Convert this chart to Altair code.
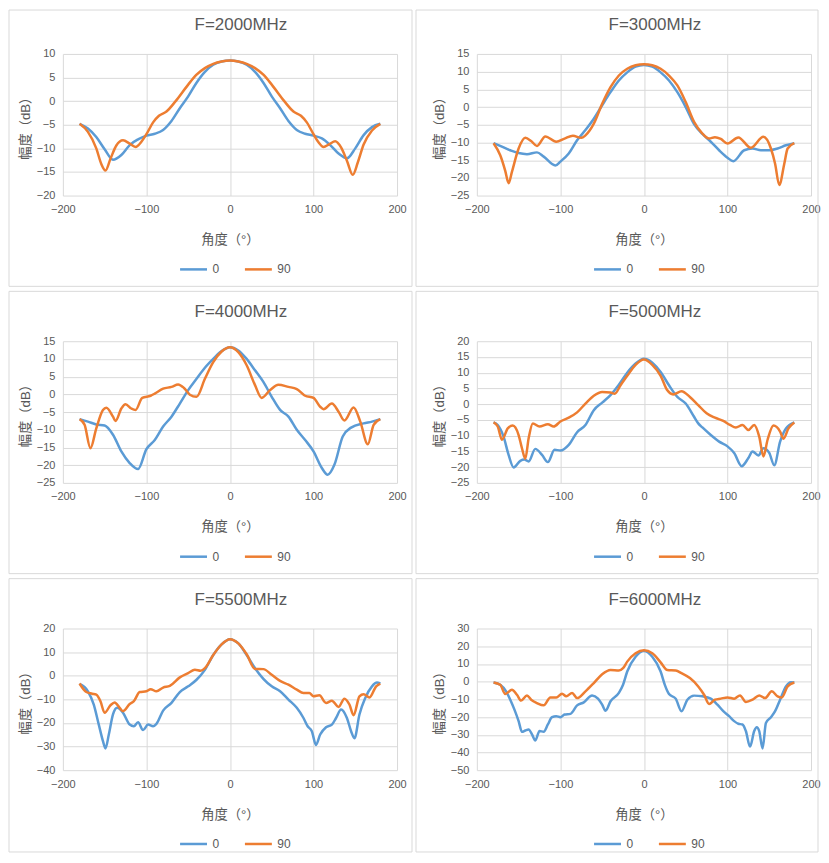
import pandas as pd
import altair as alt

FONT = "Liberation Sans, Noto Sans CJK SC"
GREY = "#595959"
GRID = "#d9d9d9"
BLUE = "#5b9bd5"
ORANGE = "#ed7d31"

x_ticks = [-200, -100, 0, 100, 200]

# F=2000MHz
ang_2000_0 = [-180, -170, -160, -150, -140, -130, -120, -110, -100, -90, -80, -70, -60, -50, -40, -30, -20, -10, 0,
              10, 20, 30, 40, 50, 60, 70, 80, 90, 100, 110, 120, 130, 140, 150, 160, 170, 180]
val_2000_0 = [-4.8, -5.8, -7.6, -10.2, -12.4, -11.4, -9.3, -8.1, -7.3, -6.9, -6.1, -4.2, -1.5, 1.0, 3.9, 6.2, 7.7, 8.4, 8.6,
              8.4, 7.7, 6.2, 3.9, 1.0, -1.5, -4.2, -6.1, -6.9, -7.3, -7.9, -9.3, -11.1, -12.1, -10.0, -7.2, -5.5, -4.8]
ang_2000_90 = [-180, -170, -160, -154, -149, -143, -136, -128, -120, -113, -106, -100, -92, -85, -76, -65, -50, -40, -30,
               -20, -10, 0, 10, 20, 30, 40, 50, 65, 76, 85, 92, 100, 106, 112, 119, 126, 133, 140, 147, 153, 160, 170, 180]
val_2000_90 = [-4.8, -6.5, -10.0, -13.3, -14.7, -12.2, -9.4, -8.3, -9.0, -9.7, -8.6, -7.0, -4.5, -3.1, -2.2, 0.0, 3.5, 5.6,
               7.0, 7.9, 8.4, 8.6, 8.4, 7.9, 7.0, 5.6, 3.5, 0.0, -2.2, -3.1, -4.5, -7.0, -8.7, -9.7, -9.1, -8.5, -9.8,
               -12.6, -15.6, -13.0, -9.2, -6.2, -4.8]

# F=3000MHz
ang_3000_0 = [-180, -170, -160, -150, -140, -128, -120, -106, -100, -90, -80, -70, -60, -50, -40, -30, -20, -10, 0,
              10, 20, 30, 40, 50, 60, 70, 80, 90, 100, 107, 120, 130, 140, 150, 160, 170, 180]
val_3000_0 = [-10.2, -11.2, -12.2, -13.0, -13.3, -12.8, -14.0, -16.5, -15.4, -13.1, -9.4, -6.5, -3.3, 0.5, 4.2, 7.5, 9.8,
              11.4, 11.9, 11.4, 9.8, 7.5, 4.2, 0.0, -4.8, -7.6, -9.8, -12.2, -14.3, -15.3, -12.2, -11.7, -12.2, -12.2,
              -11.7, -10.8, -10.2]
ang_3000_90 = [-180, -172, -166, -162, -158, -150, -142, -135, -128, -118, -105, -95, -85, -75, -70, -60, -50, -40, -30,
               -20, -10, 0, 10, 20, 30, 40, 50, 60, 70, 78, 85, 92, 100, 113, 128, 143, 152, 157, 162, 168, 172, 180]
val_3000_90 = [-10.2, -13.6, -18.0, -21.5, -18.3, -11.7, -8.7, -9.6, -11.0, -8.3, -9.8, -8.9, -8.1, -8.7, -8.0, -4.7, 0.9,
               5.6, 8.9, 10.8, 11.8, 12.1, 11.8, 10.8, 8.9, 6.1, 1.4, -4.2, -7.5, -8.9, -8.5, -9.0, -10.3, -8.6, -11.5,
               -8.4, -11.7, -16.0, -22.0, -16.0, -11.7, -10.2]

# F=4000MHz
ang_4000_0 = [-180, -170, -160, -150, -140, -130, -120, -110, -100, -90, -80, -70, -60, -50, -40, -30, -20, -10, 0,
              10, 20, 30, 40, 50, 60, 70, 80, 90, 100, 110, 117, 125, 135, 145, 160, 170, 180]
val_4000_0 = [-7.0, -7.7, -8.5, -8.8, -11.4, -16.1, -19.4, -21.1, -15.5, -12.9, -9.1, -6.3, -2.6, 1.2, 4.4, 7.5, 10.0,
              12.2, 13.3, 12.4, 10.0, 6.8, 3.5, -0.7, -4.4, -6.3, -10.0, -12.9, -16.1, -20.8, -22.7, -19.9, -11.9, -9.4,
              -8.2, -7.7, -7.0]
ang_4000_90 = [-180, -174, -167, -160, -152, -148, -140, -137, -130, -125, -118, -113, -105, -95, -90, -80, -70, -62, -55,
               -48, -40, -30, -20, -10, 0, 10, 20, 30, 38, 48, 58, 70, 80, 90, 100, 108, 112, 122, 130, 137, 148, 156,
               165, 172, 180]
val_4000_90 = [-7.0, -8.6, -15.2, -9.6, -4.4, -3.8, -6.3, -7.5, -4.0, -2.8, -4.0, -4.4, -1.0, -0.4, 0.2, 1.6, 2.1, 2.8,
               1.8, -0.1, -0.7, 4.4, 9.1, 12.1, 13.3, 11.9, 8.2, 2.6, -1.0, 1.2, 2.7, 2.1, 1.5, -0.4, -1.0, -3.5, -4.2,
               -2.6, -4.9, -7.4, -3.7, -7.7, -14.1, -8.6, -7.0]

# F=5000MHz
ang_5000_0 = [-180, -175, -168, -162, -156, -148, -143, -138, -130, -122, -115, -107, -100, -90, -80, -70, -60, -50, -40,
              -30, -20, -10, 0, 10, 20, 30, 40, 50, 60, 65, 70, 80, 90, 100, 108, 117, 125, 130, 137, 143, 150, 156,
              163, 170, 180]
val_5000_0 = [-5.8, -6.6, -10.3, -16.1, -20.1, -18.0, -17.6, -18.2, -14.2, -16.1, -18.4, -14.5, -14.7, -12.9, -8.9, -6.6,
              -1.9, 0.5, 2.9, 6.2, 10.0, 12.9, 14.4, 13.2, 10.2, 6.0, 2.3, 0.2, -4.0, -6.1, -7.4, -9.8, -11.9, -13.4,
              -15.5, -19.7, -17.1, -15.0, -16.3, -14.0, -15.5, -19.4, -11.9, -7.7, -5.8]
ang_5000_90 = [-180, -175, -170, -163, -157, -150, -146, -142, -138, -133, -125, -115, -108, -100, -90, -80, -70, -60,
               -50, -40, -35, -28, -20, -10, 0, 10, 20, 28, 35, 45, 55, 65, 75, 85, 95, 103, 110, 118, 125, 132, 138,
               143, 148, 155, 163, 167, 173, 180]
val_5000_90 = [-5.8, -7.1, -11.3, -7.7, -6.8, -9.8, -14.0, -17.3, -10.8, -6.1, -7.1, -6.4, -7.1, -5.5, -4.3, -2.6, 0.2,
               2.7, 3.9, 3.7, 3.3, 6.0, 9.0, 12.5, 14.2, 12.5, 9.0, 4.4, 3.1, 4.1, 2.3, -0.3, -2.9, -4.3, -5.3, -6.6,
               -7.4, -6.6, -8.2, -6.6, -10.3, -16.6, -11.3, -6.8, -8.7, -11.0, -7.7, -5.8]

# F=5500MHz
ang_5500_0 = [-180, -170, -163, -157, -152, -149, -145, -140, -135, -128, -120, -115, -110, -104, -98, -92, -88, -80,
              -70, -60, -50, -40, -30, -20, -10, 0, 10, 20, 30, 40, 50, 60, 70, 80, 88, 93, 98, 103, 108, 115, 122,
              127, 133, 140, 145, 149, 155, 162, 170, 176, 180]
val_5500_0 = [-3.5, -6.6, -12.2, -20.7, -27.7, -30.8, -24.9, -16.4, -13.6, -15.7, -20.7, -21.4, -19.7, -23.0, -20.7,
              -21.4, -20.4, -14.8, -11.5, -6.9, -4.5, -1.7, 2.5, 8.8, 13.3, 15.5, 13.7, 8.8, 3.2, -1.3, -4.5, -6.6,
              -10.1, -13.6, -17.9, -21.4, -23.5, -29.3, -24.9, -21.8, -20.7, -17.9, -14.3, -17.9, -23.5, -26.5, -16.4,
              -9.4, -4.5, -2.9, -3.3]
ang_5500_90 = [-180, -172, -165, -160, -155, -150, -143, -138, -132, -128, -120, -115, -108, -100, -95, -88, -80, -72,
               -60, -50, -42, -35, -30, -20, -10, 0, 10, 20, 30, 40, 50, 60, 70, 80, 88, 95, 100, 107, 115, 122, 130,
               137, 143, 148, 155, 160, 167, 175, 180]
val_5500_90 = [-3.3, -6.9, -7.6, -8.0, -10.8, -15.7, -12.5, -11.3, -13.6, -15.0, -12.0, -10.8, -6.9, -6.6, -5.7, -6.6,
               -5.0, -4.3, -0.7, 1.1, 2.5, 2.1, 3.2, 8.8, 13.3, 15.5, 13.7, 9.1, 2.9, 2.8, 0.4, -2.2, -3.8, -5.9, -7.3,
               -7.3, -8.7, -8.3, -11.5, -10.6, -13.2, -9.7, -12.2, -16.7, -8.7, -7.8, -9.2, -4.5, -3.3]

# F=6000MHz
ang_6000_0 = [-180, -172, -165, -160, -155, -150, -146, -142, -138, -134, -130, -125, -120, -115, -110, -105, -100, -95,
              -88, -80, -72, -62, -55, -50, -46, -40, -30, -25, -20, -10, 0, 10, 20, 25, 30, 38, 45, 52, 60, 70, 80,
              88, 95, 102, 108, 113, 118, 122, 127, 132, 135, 138, 142, 146, 152, 157, 163, 170, 176, 180]
val_6000_0 = [-0.5, -1.8, -5.5, -10.2, -15.8, -22.3, -28.3, -27.6, -27.0, -29.8, -33.2, -27.9, -28.3, -24.2, -20.1,
              -19.5, -20.1, -18.6, -18.2, -13.4, -11.7, -7.8, -9.6, -13.0, -16.4, -11.1, -6.4, -1.8, 5.7, 14.1, 17.3,
              14.1, 5.7, -1.8, -7.0, -9.6, -16.7, -10.2, -7.9, -8.3, -9.6, -13.0, -16.7, -19.5, -22.3, -23.8, -24.2,
              -27.9, -36.7, -27.9, -25.7, -27.9, -37.7, -23.3, -20.1, -16.7, -10.2, -2.7, -0.3, -0.5]
ang_6000_90 = [-180, -172, -166, -158, -152, -147, -140, -135, -128, -120, -112, -105, -98, -93, -86, -80, -70, -60, -50,
               -40, -30, -25, -20, -10, 0, 10, 20, 28, 38, 45, 55, 65, 72, 78, 85, 92, 100, 108, 115, 122, 130, 138,
               145, 153, 160, 165, 172, 180]
val_6000_90 = [-0.5, -1.8, -7.0, -4.6, -7.4, -10.7, -7.8, -10.2, -12.1, -13.4, -8.9, -8.9, -6.8, -8.3, -6.4, -9.3, -5.5,
               -0.8, 4.2, 6.6, 6.3, 7.6, 11.3, 16.0, 17.7, 16.0, 10.9, 6.6, 6.3, 4.8, 2.0, -2.7, -7.4, -12.6, -10.2,
               -9.6, -8.9, -9.6, -7.8, -11.5, -10.2, -7.8, -9.3, -5.5, -8.3, -8.9, -2.7, -0.5]

panels = [
    ("F=2000MHz", -20, 10, 5, ang_2000_0, val_2000_0, ang_2000_90, val_2000_90),
    ("F=3000MHz", -25, 15, 5, ang_3000_0, val_3000_0, ang_3000_90, val_3000_90),
    ("F=4000MHz", -25, 15, 5, ang_4000_0, val_4000_0, ang_4000_90, val_4000_90),
    ("F=5000MHz", -25, 20, 5, ang_5000_0, val_5000_0, ang_5000_90, val_5000_90),
    ("F=5500MHz", -40, 20, 10, ang_5500_0, val_5500_0, ang_5500_90, val_5500_90),
    ("F=6000MHz", -50, 30, 10, ang_6000_0, val_6000_0, ang_6000_90, val_6000_90),
]

W, H = 335, 142


def panel(i, title, y_lo, y_hi, y_step, a0, v0, a90, v90):
    df = pd.concat([
        pd.DataFrame({"angle": a0, "gain": v0, "pol": "0"}),
        pd.DataFrame({"angle": a90, "gain": v90, "pol": "90"}),
    ])
    one = pd.DataFrame({"k": [0]})
    # grey chart-area border, like the Excel chart frame
    # (kept inside the page so the svg is never shrunk by the browser)
    left = -54 if i % 2 == 0 else -61
    right = W + 15 if i % 2 == 0 else W + 7
    top = -44 if i < 2 else -50
    bottom = 224 if i >= 4 else 233
    frame = alt.Chart(one).mark_rect(
        fillOpacity=0, stroke=GRID, strokeWidth=1, clip=False
    ).encode(x=alt.value(left), x2=alt.value(right), y=alt.value(top), y2=alt.value(bottom))

    # chart title drawn as text so the frame does not push it up
    heading = alt.Chart(one).mark_text(
        text=title, font=FONT, fontSize=17, color=GREY, align="center", baseline="middle", clip=False
    ).encode(x=alt.value(W / 2 + 11), y=alt.value(-29))

    lines = alt.Chart(df).mark_line(interpolate="monotone", strokeWidth=2.5).encode(
        x=alt.X("angle:Q", scale=alt.Scale(domain=[-200, 200], nice=False),
                axis=alt.Axis(values=x_ticks, title="角度（°）", titleX=W / 2, titleY=44,
                              titleBaseline="middle")),
        y=alt.Y("gain:Q", scale=alt.Scale(domain=[y_lo, y_hi], nice=False, zero=False),
                axis=alt.Axis(values=list(range(y_lo, y_hi + 1, y_step)), title="幅度（dB）",
                              titleX=-37, titleY=H / 2, titleAngle=270, titleAlign="center",
                              titleBaseline="middle")),
        color=alt.Color("pol:N", scale=alt.Scale(domain=["0", "90"], range=[BLUE, ORANGE]),
                        legend=alt.Legend(title=None)),
    )
    return alt.layer(frame, heading, lines).properties(width=W, height=H)


charts = [panel(i, *p) for i, p in enumerate(panels)]

chart = alt.concat(*charts, columns=2, spacing={"row": 146, "column": 80}, bounds="flush").resolve_scale(
    x="independent", y="independent", color="independent"
).resolve_legend(color="independent").properties(padding=0).configure_view(
    strokeWidth=0
).configure_axis(
    domain=False, ticks=False, tickSize=0, grid=True, gridColor=GRID, gridWidth=1,
    labelColor=GREY, labelFont=FONT, labelFontSize=11, labelPadding=8, labelFlush=False,
    titleColor=GREY, titleFont=FONT, titleFontSize=13.3, titleFontWeight="normal",
).configure_legend(
    orient="none", legendX=116, legendY=201, direction="horizontal",
    symbolType="stroke", symbolSize=729, symbolStrokeWidth=2.5,
    labelFont=FONT, labelFontSize=12, labelColor=GREY, labelOffset=4, columnPadding=20,
)

chart.save("out.html", embed_options={"renderer": "svg", "actions": False})
